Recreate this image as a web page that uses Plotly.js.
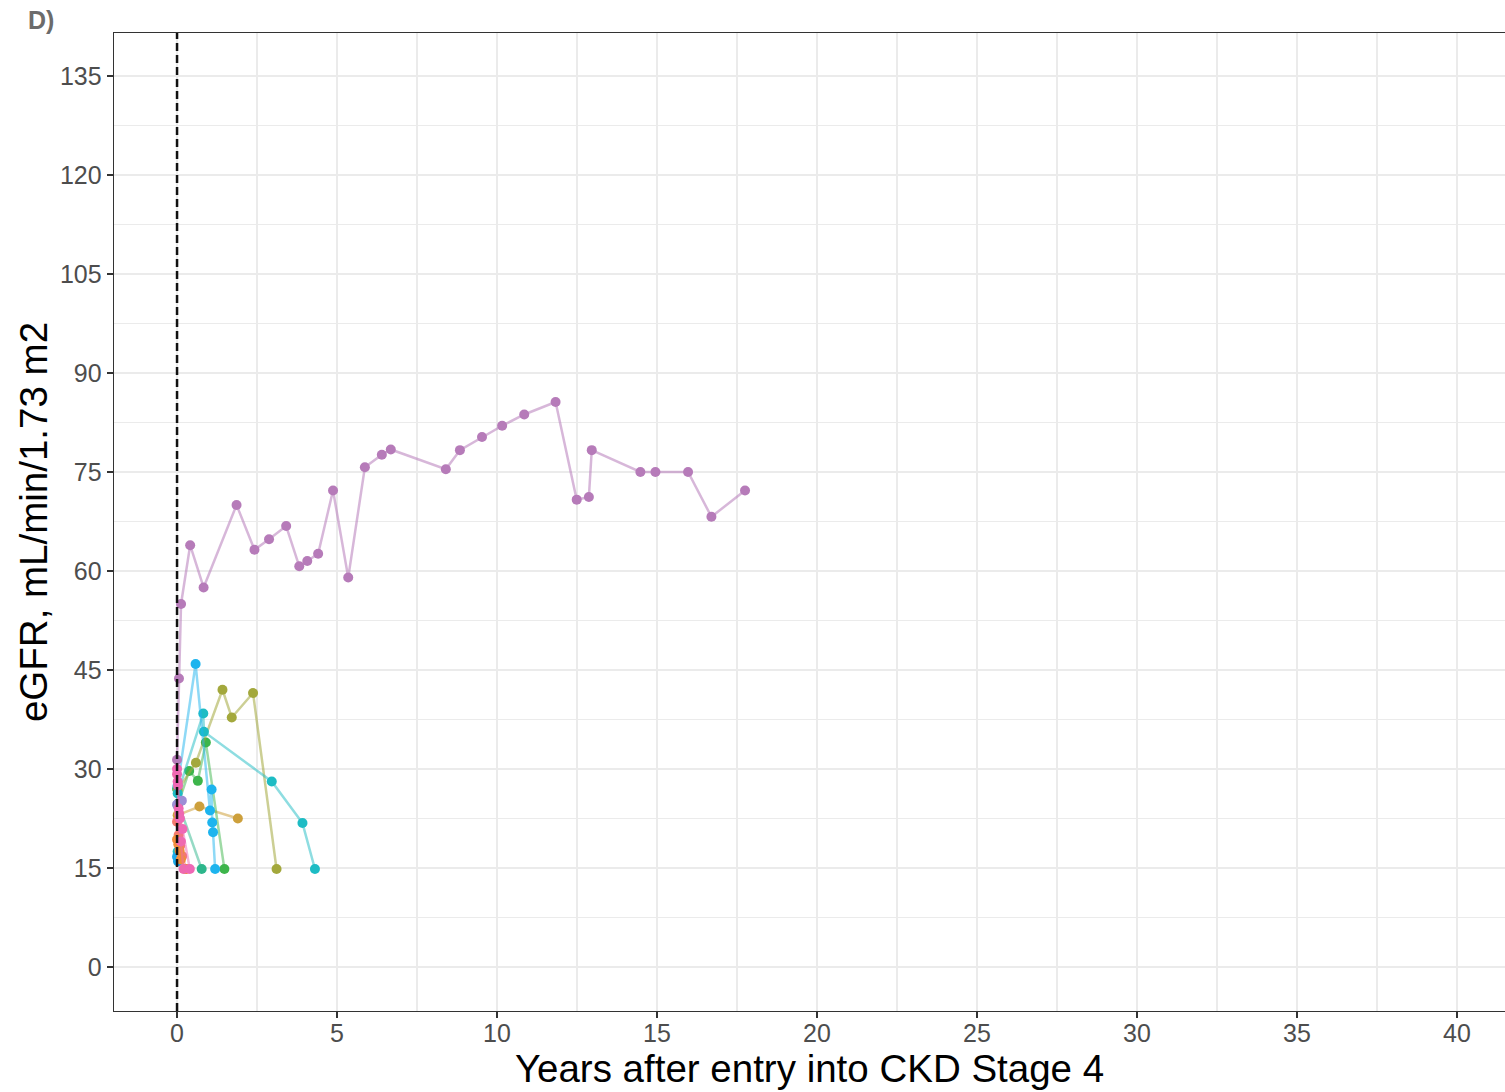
<!DOCTYPE html>
<html>
<head>
<meta charset="utf-8">
<script src="https://cdn.plot.ly/plotly-3.0.1.min.js"></script>
<style>html,body{margin:0;padding:0;background:#fff;}#chart{width:1505px;height:1092px;}</style>
</head>
<body>
<div id="chart"></div>
<script>
// ---- Data (years after entry into CKD stage 4, eGFR) ----
const purpleYears = [0.0, 0.06, 0.125, 0.41, 0.83, 1.86, 2.42, 2.875, 3.41, 3.82, 4.07, 4.41, 4.875, 5.35, 5.87, 6.4, 6.68, 8.4, 8.84, 9.53, 10.16, 10.85, 11.83, 12.49, 12.87, 12.96, 14.48, 14.95, 15.97, 16.7, 17.75];
const purpleEgfr  = [31.4, 43.7, 55.0, 63.9, 57.5, 70.0, 63.2, 64.8, 66.8, 60.7, 61.5, 62.6, 72.2, 59.0, 75.7, 77.6, 78.4, 75.4, 78.3, 80.3, 82.0, 83.7, 85.6, 70.8, 71.2, 78.3, 75.0, 75.0, 75.0, 68.2, 72.2];

const blueYears = [0.02, 0.58, 1.03, 1.08, 1.10, 1.125, 1.19];
const blueEgfr  = [27.5, 45.9, 23.7, 26.9, 21.9, 20.4, 14.85];

const tealYears = [0.02, 0.82, 0.84, 2.96, 3.92, 4.31];
const tealEgfr  = [26.3, 38.4, 35.65, 28.1, 21.8, 14.85];

const oliveYears = [0.02, 0.59, 1.42, 1.71, 2.375, 3.11];
const oliveEgfr  = [26.8, 30.95, 42.0, 37.8, 41.5, 14.85];

const greenYears = [0.02, 0.38, 0.65, 0.90, 1.48];
const greenEgfr  = [24.5, 29.7, 28.2, 34.0, 14.85];

const goldYears = [0.02, 0.70, 1.90];
const goldEgfr  = [23.0, 24.3, 22.5];

const tealGreenYears = [0.0, 0.04, 0.77];
const tealGreenEgfr  = [27.0, 24.8, 14.85];

const lavenderYears = [0.0, 0.15];
const lavenderEgfr  = [24.6, 25.2];

const pinkAYears = [0.0, 0.02, 0.05, 0.09, 0.17, 0.40];
const pinkAEgfr  = [30.0, 28.1, 24.0, 22.5, 20.9, 14.85];

const pinkBYears = [0.0, 0.03, 0.07, 0.12, 0.20];
const pinkBEgfr  = [29.2, 27.5, 23.2, 19.0, 14.85];

const orangeYears = [0.0, 0.04, 0.08, 0.12, 0.25];
const orangeEgfr  = [19.3, 18.6, 17.6, 16.3, 14.85];

const salmonYears = [0.0, 0.05, 0.10, 0.16, 0.30];
const salmonEgfr  = [22.0, 20.0, 18.4, 16.8, 14.85];

const smallBlueYears = [0.0, 0.03];
const smallBlueEgfr  = [16.7, 16.0];

const smallTealYears = [0.02, 0.06];
const smallTealEgfr  = [17.5, 16.8];

const xTicks = [0, 5, 10, 15, 20, 25, 30, 35, 40];
const yTicks = [0, 15, 30, 45, 60, 75, 90, 105, 120, 135];

// ---- Series definitions (draw order: small cluster first, long series last) ----
const series = [
  {x: tealGreenYears, y: tealGreenEgfr, dot: '#2DB68B', line: 'rgba(45,182,139,0.5)'},
  {x: goldYears, y: goldEgfr, dot: '#CDA03C', line: 'rgba(205,160,60,0.55)'},
  {x: greenYears, y: greenEgfr, dot: '#3DB54B', line: 'rgba(61,181,75,0.5)'},
  {x: oliveYears, y: oliveEgfr, dot: '#A3A83C', line: 'rgba(163,168,60,0.55)'},
  {x: tealYears, y: tealEgfr, dot: '#1DBCC4', line: 'rgba(29,188,196,0.5)'},
  {x: blueYears, y: blueEgfr, dot: '#1DB4EE', line: 'rgba(29,180,238,0.5)'},
  {x: smallTealYears, y: smallTealEgfr, dot: '#1DBCC4', line: 'rgba(29,188,196,0.5)'},
  {x: smallBlueYears, y: smallBlueEgfr, dot: '#1DA9E8', line: 'rgba(29,169,232,0.5)'},
  {x: salmonYears, y: salmonEgfr, dot: '#F47A6E', line: 'rgba(244,122,110,0.5)'},
  {x: orangeYears, y: orangeEgfr, dot: '#F08D3C', line: 'rgba(240,141,60,0.5)'},
  {x: lavenderYears, y: lavenderEgfr, dot: '#9D8ED6', line: 'rgba(157,142,214,0.5)'},
  {x: pinkBYears, y: pinkBEgfr, dot: '#EE6AAF', line: 'rgba(238,106,175,0.5)'},
  {x: pinkAYears, y: pinkAEgfr, dot: '#EF68B5', line: 'rgba(239,104,181,0.5)'},
  {x: purpleYears, y: purpleEgfr, dot: '#B67BB9', line: 'rgba(182,123,185,0.55)'}
];

const traces = series.map(s => ({
  type: 'scatter', mode: 'lines+markers',
  x: s.x, y: s.y,
  line: {color: s.line, width: 2.5},
  marker: {color: s.dot, size: 10},
  showlegend: false, hoverinfo: 'skip'
}));

const font = 'Liberation Sans, Arial, Helvetica, sans-serif';
const gridMajor = '#EBEBEB';

const axisCommon = {
  showgrid: true, gridcolor: gridMajor, gridwidth: 2,
  zeroline: false,
  showline: true, mirror: true, linecolor: '#333333', linewidth: 1.4,
  ticks: 'outside', ticklen: 6, tickcolor: '#333333', tickwidth: 1.6,
  tickfont: {family: font, size: 25, color: '#4D4D4D'}
};

const layout = {
  width: 1505, height: 1092,
  paper_bgcolor: '#ffffff', plot_bgcolor: '#ffffff',
  margin: {l: 114, r: 0, t: 33, b: 81},
  font: {family: font},
  title: {
    text: '<b>D)</b>', font: {family: font, size: 25, color: '#6B6B6B'},
    xref: 'container', yref: 'container', x: 28/1505, xanchor: 'left',
    y: 1 - 20/1092, yanchor: 'middle'
  },
  xaxis: Object.assign({}, axisCommon, {
    range: [-1.97, 41.5],
    tickmode: 'array', tickvals: xTicks, ticktext: xTicks.map(String),
    ticklabelstandoff: -6,
    minor: {dtick: 2.5, tick0: 0, showgrid: true, gridcolor: gridMajor, gridwidth: 1.3, ticks: ''},
    title: {text: 'Years after entry into CKD Stage 4', font: {family: font, size: 38.5, color: '#000000'}, standoff: 2}
  }),
  yaxis: Object.assign({}, axisCommon, {
    range: [-6.67, 141.5],
    tickmode: 'array', tickvals: yTicks, ticktext: yTicks.map(String),
    minor: {dtick: 7.5, tick0: 0, showgrid: true, gridcolor: gridMajor, gridwidth: 1.3, ticks: ''},
    title: {text: 'eGFR, mL/min/1.73 m2', font: {family: font, size: 38.5, color: '#000000'}, standoff: 0}
  }),
  shapes: [{
    type: 'line', xref: 'x', yref: 'paper', x0: 0, x1: 0, y0: 0, y1: 1,
    line: {color: '#111111', width: 2.5, dash: '8px,4px'}
  }]
};

Plotly.newPlot('chart', traces, layout, {displayModeBar: false, staticPlot: true});
</script>
</body>
</html>
